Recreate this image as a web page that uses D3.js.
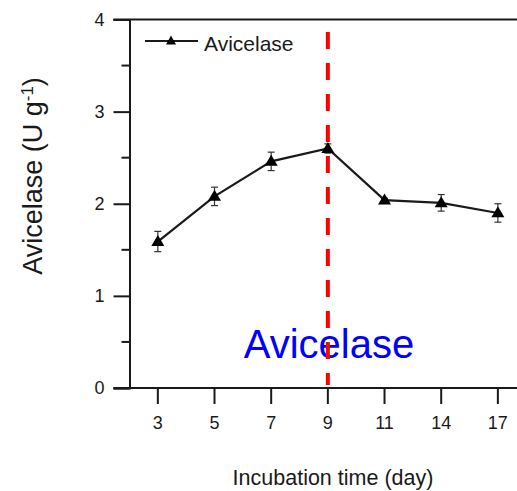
<!DOCTYPE html>
<html>
<head>
<meta charset="utf-8">
<script src="https://cdn.jsdelivr.net/npm/d3@7"></script>
<style>
  html, body { margin: 0; padding: 0; background: #fff; }
  svg { display: block; font-family: "Liberation Sans", Arial, sans-serif; }
</style>
</head>
<body>
<svg id="chart" width="517" height="491"></svg>
<script>
// Incubation days and avicelase activity (U g^-1) with standard errors
const days = ["3", "5", "7", "9", "11", "14", "17"];
const avicelase = [1.59, 2.08, 2.46, 2.60, 2.04, 2.01, 1.90];
const avicelaseErr = [0.11, 0.10, 0.10, 0.05, 0.02, 0.09, 0.10];
const yTicks = [0, 1, 2, 3, 4];
const yMinorTicks = [0.5, 1.5, 2.5, 3.5];
const markerDay = "9";

const svg = d3.select("#chart");
const W = 517, H = 491;
const plotLeft = 129.5, plotTop = 19.5, plotBottom = 388;
const ink = "#1a1a1a";

const x = d3.scaleBand().domain(days).range([plotLeft, 526.2]).padding(0);
const cx = d => x(d) + x.bandwidth() / 2;
const y = d3.scaleLinear().domain([0, 4]).range([plotBottom, plotTop]);

// Y axis with major ticks and labels
const yAxis = d3.axisLeft(y).tickValues(yTicks).tickSize(16).tickPadding(9).tickFormat(d3.format("d"));
const gy = svg.append("g").attr("transform", `translate(${plotLeft},0)`).call(yAxis);
gy.select(".domain").attr("stroke", ink).attr("stroke-width", 2);
gy.selectAll(".tick line").attr("stroke", ink).attr("stroke-width", 2);
gy.selectAll(".tick text").attr("font-size", 18).attr("fill", ink)
  .attr("font-family", "Liberation Sans, Arial, sans-serif");

// Minor y ticks
svg.append("g").selectAll("line").data(yMinorTicks).join("line")
  .attr("x1", plotLeft - 8).attr("x2", plotLeft)
  .attr("y1", d => y(d)).attr("y2", d => y(d))
  .attr("stroke", ink).attr("stroke-width", 2);

// X axis
const xAxis = d3.axisBottom(x).tickSize(16).tickPadding(12);
const gx = svg.append("g").attr("transform", `translate(0,${plotBottom})`).call(xAxis);
gx.select(".domain").remove();
gx.selectAll(".tick line").attr("stroke", ink).attr("stroke-width", 2);
gx.selectAll(".tick text").attr("font-size", 18).attr("fill", ink)
  .attr("font-family", "Liberation Sans, Arial, sans-serif");

// Bottom and top frame lines
svg.append("line").attr("x1", plotLeft - 16).attr("x2", W).attr("y1", plotBottom).attr("y2", plotBottom)
  .attr("stroke", ink).attr("stroke-width", 2);
svg.append("line").attr("x1", plotLeft - 16).attr("x2", W).attr("y1", plotTop).attr("y2", plotTop)
  .attr("stroke", ink).attr("stroke-width", 2);

// Axis titles
const yl = svg.append("text")
  .attr("transform", `translate(42,176) rotate(-90)`)
  .attr("text-anchor", "middle").attr("font-size", 27).attr("fill", ink);
yl.append("tspan").text("Avicelase (U g");
yl.append("tspan").text("-1").attr("font-size", 17).attr("baseline-shift", "super");
yl.append("tspan").text(")");

svg.append("text").attr("x", 333).attr("y", 485).attr("text-anchor", "middle")
  .attr("font-size", 21.5).attr("fill", ink).text("Incubation time (day)");

// Annotation text
svg.append("text").attr("x", 329).attr("y", 358).attr("text-anchor", "middle")
  .attr("font-size", 40).attr("fill", "#0000ff").text("Avicelase");

// Series line
const pts = days.map((d, i) => [cx(d), y(avicelase[i])]);
svg.append("path").attr("d", d3.line()(pts))
  .attr("fill", "none").attr("stroke", ink).attr("stroke-width", 2.2);

// Error bars
const eb = svg.append("g").attr("stroke", "#333").attr("stroke-width", 1.2);
days.forEach((d, i) => {
  const xc = cx(d), hi = y(avicelase[i] + avicelaseErr[i]), lo = y(avicelase[i] - avicelaseErr[i]);
  eb.append("line").attr("x1", xc).attr("x2", xc).attr("y1", hi).attr("y2", lo);
  eb.append("line").attr("x1", xc - 3.5).attr("x2", xc + 3.5).attr("y1", hi).attr("y2", hi);
  eb.append("line").attr("x1", xc - 3.5).attr("x2", xc + 3.5).attr("y1", lo).attr("y2", lo);
});

// Triangle markers
const tri = (xc, yc, w, h) => `M${xc},${yc - h * 0.6}L${xc + w / 2},${yc + h * 0.4}L${xc - w / 2},${yc + h * 0.4}Z`;
svg.append("g").selectAll("path").data(pts).join("path")
  .attr("d", p => tri(p[0], p[1], 13, 11)).attr("fill", "#000");

// Legend
svg.append("line").attr("x1", 145).attr("x2", 198).attr("y1", 41).attr("y2", 41)
  .attr("stroke", ink).attr("stroke-width", 2);
svg.append("path").attr("d", tri(171, 41, 10, 9)).attr("fill", "#000");
svg.append("text").attr("x", 204).attr("y", 51).attr("font-size", 21).attr("fill", ink).text("Avicelase");

// Peak-day reference line
svg.append("line").attr("x1", cx(markerDay)).attr("x2", cx(markerDay))
  .attr("y1", 32).attr("y2", 385)
  .attr("stroke", "#ff0000").attr("stroke-width", 4).attr("stroke-dasharray", "17,14");
</script>
</body>
</html>
